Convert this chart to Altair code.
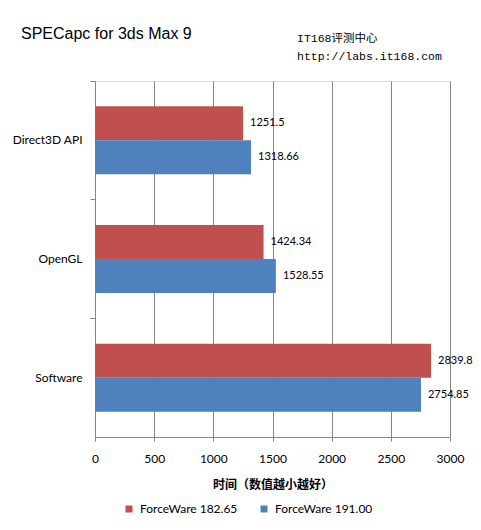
import altair as alt
import pandas as pd

categories = ["Direct3D API", "OpenGL", "Software"]
series = ["ForceWare 182.65", "ForceWare 191.00"]
v_18265 = [1251.5, 1424.34, 2839.8]
v_19100 = [1318.66, 1528.55, 2754.85]
colors = ["#C0504D", "#4F81BD"]
x_ticks = [0, 500, 1000, 1500, 2000, 2500, 3000]

rows = []
for c, a, b in zip(categories, v_18265, v_19100):
    rows.append({"cat": c, "series": series[0], "value": a, "label": f"{a:g}"})
    rows.append({"cat": c, "series": series[1], "value": b, "label": f"{b:g}"})
df = pd.DataFrame(rows)

y_enc = alt.Y("cat:N", sort=categories,
              scale=alt.Scale(paddingInner=0, paddingOuter=0),
              axis=alt.Axis(title=None, bandPosition=0,
                            tickSize=5, tickColor="#868686", domainColor="#868686",
                            labelPadding=8, labelFont="Lato", labelFontSize=12,
                            labelColor="#000000", grid=False))
yoff = alt.YOffset("series:N", sort=series,
                   scale=alt.Scale(paddingInner=0, paddingOuter=0.745))
x_enc = alt.X("value:Q", scale=alt.Scale(domain=[0, 3000], nice=False),
              axis=alt.Axis(values=x_ticks, format="d", title="时间（数值越小越好）",
                            titleFont="Noto Sans CJK SC", titleFontSize=12,
                            titleFontWeight="bold", titleColor="#000000",
                            titleBaseline="middle", titleY=47,
                            labelFont="Lato", labelFontSize=12, labelColor="#000000",
                            labelPadding=12, tickSize=4, tickColor="#868686",
                            domainColor="#868686", grid=True, gridColor="#868686",
                            labelFlush=False))

bars = alt.Chart(df).mark_bar().encode(
    x=x_enc, y=y_enc, yOffset=yoff,
    color=alt.Color("series:N", sort=series,
                    scale=alt.Scale(domain=series, range=colors),
                    legend=alt.Legend(title=None, orient="none", legendX=28, legendY=422,
                                      direction="horizontal", symbolType="square",
                                      symbolSize=49, symbolStrokeWidth=0,
                                      labelFont="Lato", labelFontSize=12,
                                      labelColor="#000000", labelOffset=5,
                                      columnPadding=20)),
)

labels = alt.Chart(df).mark_text(align="left", baseline="middle", dx=7,
                                 font="Lato", fontSize=11, color="#000000").encode(
    x=alt.X("value:Q"), y=alt.Y("cat:N", sort=categories), yOffset=yoff,
    text="label:N",
)

title = alt.Chart(pd.DataFrame({"t": ["SPECapc for 3ds Max 9"]})).mark_text(
    align="left", baseline="middle", font="Liberation Sans",
    fontSize=16, color="#000000").encode(
    x=alt.value(-74), y=alt.value(-47), text="t:N")
site1 = alt.Chart(pd.DataFrame({"t": ["IT168评测中心"]})).mark_text(
    align="left", baseline="middle", font="Liberation Mono, Noto Sans CJK SC",
    fontSize=11.5, color="#000000").encode(
    x=alt.value(202), y=alt.value(-42), text="t:N")
site2 = alt.Chart(pd.DataFrame({"t": ["http://labs.it168.com"]})).mark_text(
    align="left", baseline="middle", font="Liberation Mono",
    fontSize=11.5, color="#000000").encode(
    x=alt.value(202), y=alt.value(-24), text="t:N")

chart = alt.layer(bars, labels, title, site1, site2).properties(
    width=355, height=356,
    autosize=alt.AutoSizeParams(type="none"),
    padding={"left": 87, "top": 73, "right": 23, "bottom": 85},
).configure_view(stroke=None).configure(background="white")

chart.save("out.html", embed_options={"renderer": "svg", "actions": False})
